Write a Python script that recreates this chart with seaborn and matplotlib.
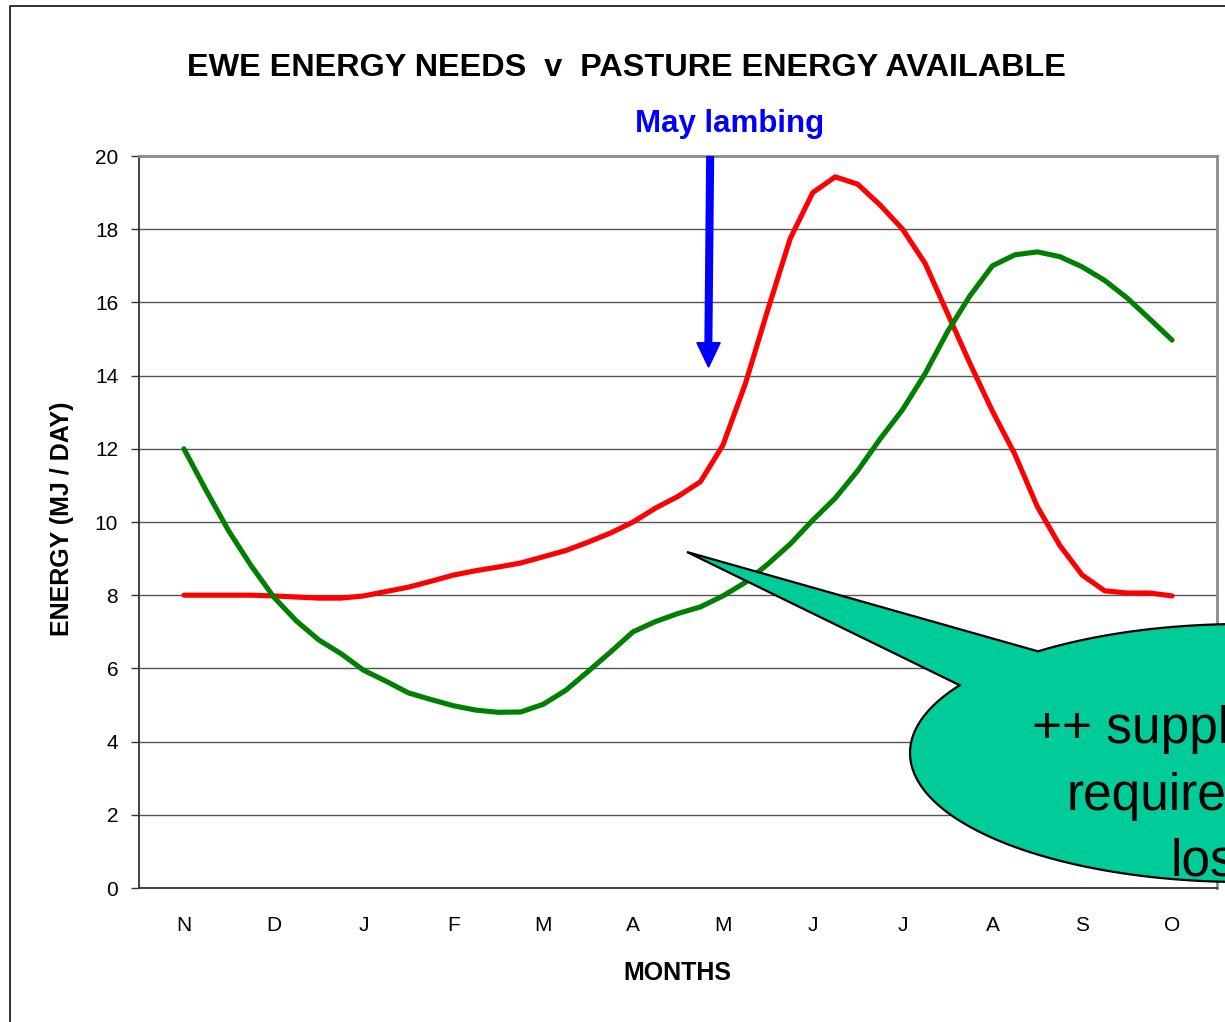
import numpy as np
import pandas as pd
import matplotlib
matplotlib.use("Agg")
import matplotlib.pyplot as plt
import seaborn as sns
from matplotlib.patches import Polygon
from matplotlib.lines import Line2D

# ---------------- data ----------------
months = ["N", "D", "J", "F", "M", "A", "M", "J", "J", "A", "S", "O"]
# values read every quarter month, from mid-N to mid-O
ewe_needs = [8.0, 8.0, 8.0, 8.0, 7.98, 7.95, 7.92, 7.92, 7.98, 8.1,
             8.22, 8.38, 8.55, 8.67, 8.77, 8.88, 9.05, 9.22, 9.45, 9.7,
             10.0, 10.38, 10.7, 11.1, 12.1, 13.78, 15.8, 17.75, 19.0, 19.43,
             19.23, 18.66, 18.0, 17.07, 15.7, 14.33, 13.03, 11.85, 10.42, 9.36,
             8.55, 8.12, 8.06, 8.06, 7.98]
pasture = [12.0, 10.85, 9.75, 8.8, 7.95, 7.3, 6.78, 6.4, 5.95, 5.65,
           5.33, 5.15, 4.98, 4.86, 4.8, 4.81, 5.02, 5.4, 5.92, 6.45,
           7.0, 7.28, 7.5, 7.68, 7.98, 8.35, 8.85, 9.4, 10.05, 10.65,
           11.4, 12.27, 13.07, 14.05, 15.2, 16.18, 17.0, 17.3, 17.38, 17.25,
           16.97, 16.6, 16.12, 15.55, 14.97]
y_ticks = list(range(0, 21, 2))
title = "EWE ENERGY NEEDS  v  PASTURE ENERGY AVAILABLE"
annot_text = "May lambing"
lambing_pos = 6.35          # position on month axis (in May)
callout_lines = ["++ supplement", "required", "losses"]

pos = np.linspace(0.5, len(months) - 0.5, len(ewe_needs))
df = pd.DataFrame({"pos": pos, "ewe": ewe_needs, "pasture": pasture})

# ---------------- style ----------------
sns.set_style("white")
plt.rcParams["font.family"] = ["Liberation Sans", "DejaVu Sans"]
plt.rcParams["text.color"] = "black"
plt.rcParams["xtick.color"] = "black"
plt.rcParams["ytick.color"] = "black"
plt.rcParams["axes.labelcolor"] = "black"

W, H = 1225, 1022
fig = plt.figure(figsize=(W / 100, H / 100), dpi=100)
fig.patch.set_facecolor("white")


def P(x, y):
    return (x / W, 1 - y / H)


ax = fig.add_axes([139 / W, 1 - 888 / H, 1078 / W, 732 / H])

sns.lineplot(data=df, x="pos", y="ewe", color="#FF0000", lw=3.7, ax=ax,
             solid_capstyle="round", zorder=3)
sns.lineplot(data=df, x="pos", y="pasture", color="#008000", lw=3.7, ax=ax,
             solid_capstyle="round", zorder=3)

ax.set_xlim(0, len(months))
ax.set_ylim(0, 20)
ax.set_yticks(y_ticks)
ax.set_yticklabels([str(v) for v in y_ticks], fontsize=15)
ax.set_xticks(np.arange(len(months) + 1))
ax.set_xticklabels([])
ax.set_xticks(np.arange(len(months)) + 0.5, minor=True)
ax.set_xticklabels(months, minor=True, fontsize=15)
ax.tick_params(axis="x", which="major", length=8, width=1, color="#333333", direction="out")
ax.tick_params(axis="x", which="minor", length=0, pad=20)
ax.tick_params(axis="y", length=6, width=1, color="#333333", direction="out", pad=9, left=True)
ax.set_xlabel("")
ax.set_ylabel("")
ax.yaxis.grid(True, color="#555555", lw=1.0)
ax.set_axisbelow(True)
for s in ["top", "right"]:
    ax.spines[s].set_color("#8c8c8c")
    ax.spines[s].set_linewidth(2)
for s in ["left", "bottom"]:
    ax.spines[s].set_color("#333333")
    ax.spines[s].set_linewidth(1.3)

# lambing arrow
ax.plot([lambing_pos + 0.008, lambing_pos - 0.012], [20, 14.85], color="#0000FF",
        lw=5.8, solid_capstyle="butt", clip_on=False, zorder=4)
ax.fill([lambing_pos - 0.14, lambing_pos + 0.12, lambing_pos - 0.01],
        [14.9, 14.9, 14.23], color="#0000FF", zorder=4)

# texts outside axes
fig.text(*P(626, 76), title, ha="center", va="baseline", fontsize=23.3, fontweight="bold")
fig.text(*P(730, 132), annot_text, ha="center", va="baseline", fontsize=22.5,
         fontweight="bold", color="#0000FF")
fig.text(*P(677, 980), "MONTHS", ha="center", va="baseline", fontsize=18, fontweight="bold")
fig.text(*P(62, 519), "ENERGY (MJ / DAY)", ha="center", va="center", rotation=90,
         fontsize=18, fontweight="bold")

# callout bubble
cx, cy, a, b = 1243, 753, 333, 129
th = np.radians(np.linspace(232, 571.7, 200))
ex = cx + a * np.cos(th)
ey = cy + b * np.sin(th)
pts = [P(687, 552)] + [P(x, y) for x, y in zip(ex, ey)]
bubble = Polygon(pts, closed=True, transform=fig.transFigure, facecolor="#00CC99",
                 edgecolor="black", lw=1.6, zorder=5)
fig.add_artist(bubble)
for (tx, ty), line in zip([(1032, 743), (1066, 810), (1171, 875)], callout_lines):
    fig.text(*P(tx, ty), line, ha="left", va="baseline", fontsize=37, color="black", zorder=6)

# outer frame
fig.add_artist(Line2D([10 / W, 10 / W, 1.05], [-0.05, 1 - 6 / H, 1 - 6 / H],
                      transform=fig.transFigure, color="#222222", lw=1.3))

fig.savefig("out.png", dpi=100)
